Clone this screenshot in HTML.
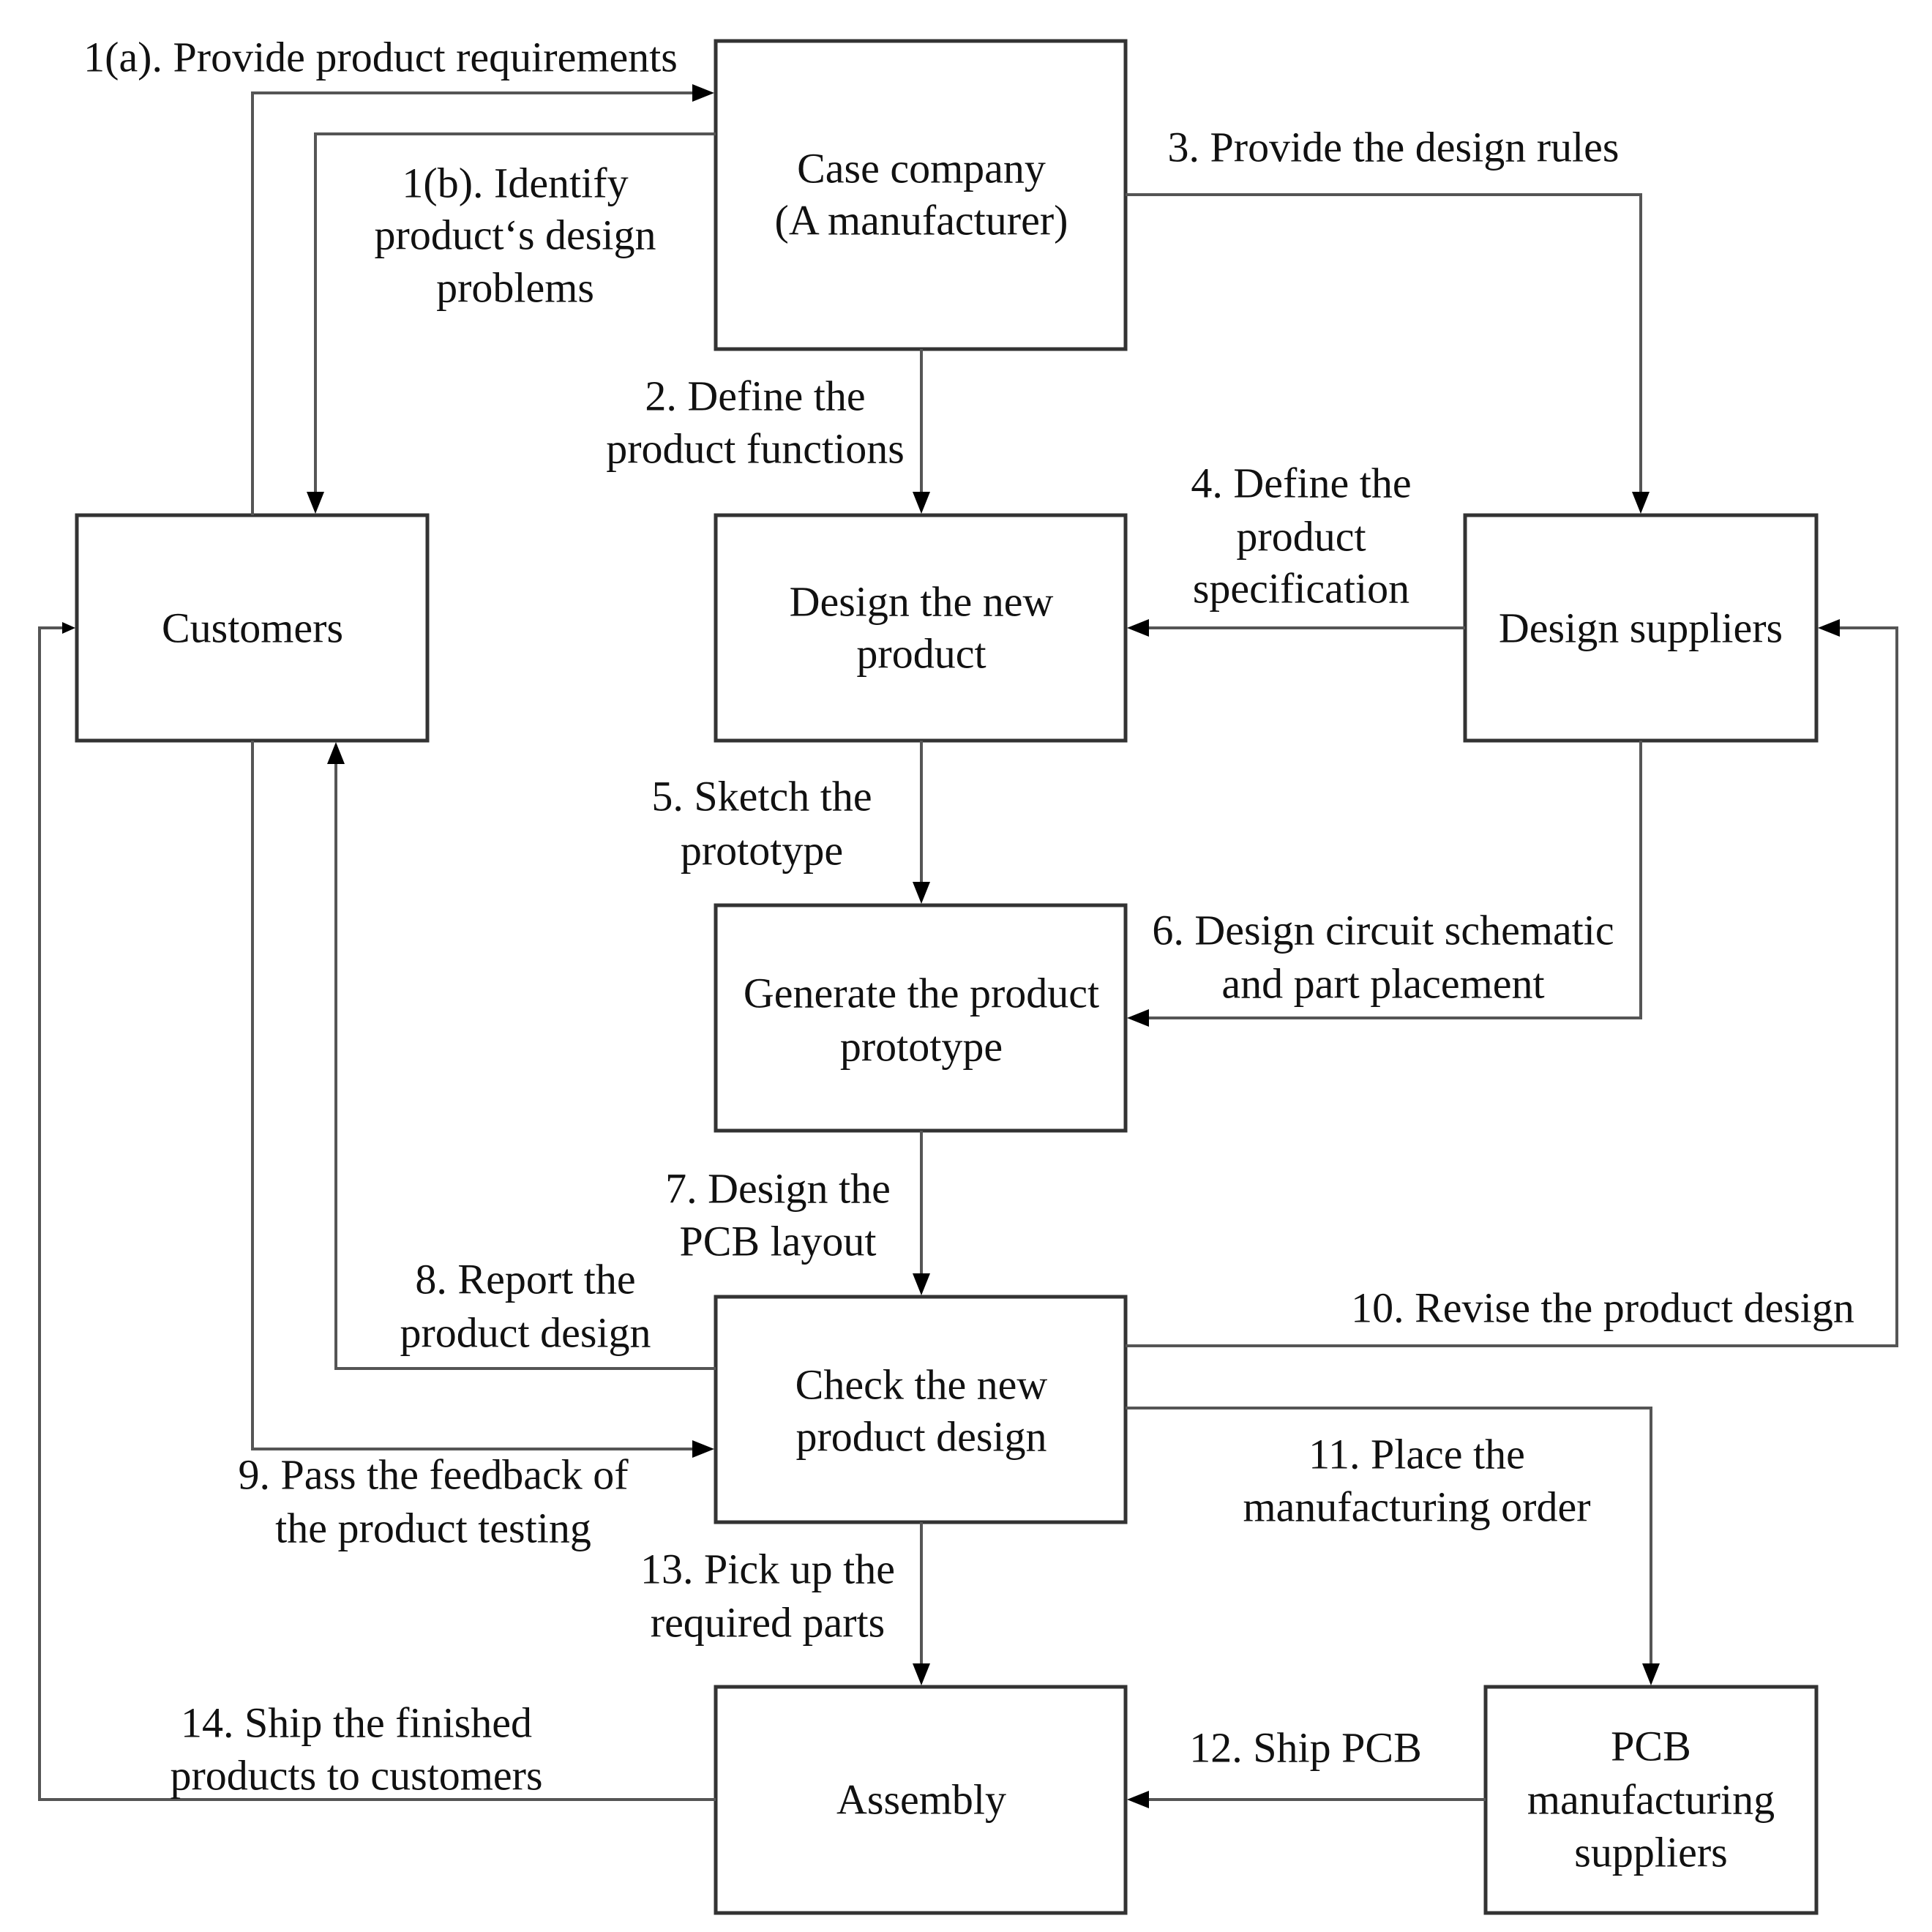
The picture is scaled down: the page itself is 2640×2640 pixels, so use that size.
<!DOCTYPE html>
<html><head><meta charset="utf-8"><style>
html,body{margin:0;padding:0;background:#fff;}
svg{display:block;}
text{font-family:"Liberation Serif",serif;font-size:58px;fill:#111;}
</style></head><body>
<svg width="2640" height="2640" viewBox="0 0 2640 2640" xmlns="http://www.w3.org/2000/svg">
<g fill="none" stroke="#333" stroke-width="5">
<rect x="978" y="56" width="560" height="421"/>
<rect x="105" y="704" width="479" height="308"/>
<rect x="978" y="704" width="560" height="308"/>
<rect x="2002" y="704" width="480" height="308"/>
<rect x="978" y="1237" width="560" height="308"/>
<rect x="978" y="1772" width="560" height="308"/>
<rect x="978" y="2305" width="560" height="309"/>
<rect x="2030" y="2305" width="452" height="309"/>
</g>
<g fill="none" stroke="#555" stroke-width="4">
<polyline points="345,704 345,127 950,127"/>
<polyline points="978,183 431,183 431,676"/>
<line x1="1259" y1="477" x2="1259" y2="676"/>
<polyline points="1538,266 2242,266 2242,676"/>
<line x1="2002" y1="858" x2="1566" y2="858"/>
<line x1="1259" y1="1012" x2="1259" y2="1209"/>
<polyline points="2242,1012 2242,1391 1566,1391"/>
<line x1="1259" y1="1545" x2="1259" y2="1744"/>
<polyline points="978,1870 459,1870 459,1040"/>
<polyline points="345,1012 345,1980 950,1980"/>
<polyline points="1538,1839 2592,1839 2592,858 2510,858"/>
<polyline points="1538,1924 2256,1924 2256,2277"/>
<line x1="2030" y1="2459" x2="1566" y2="2459"/>
<line x1="1259" y1="2080" x2="1259" y2="2277"/>
<polyline points="978,2459 54,2459 54,858 90,858"/>
</g>
<g fill="#000">
<polygon points="976,127 946,115 946,139"/>
<polygon points="431,702 419,672 443,672"/>
<polygon points="1259,702 1247,672 1271,672"/>
<polygon points="2242,702 2230,672 2254,672"/>
<polygon points="1540,858 1570,846 1570,870"/>
<polygon points="1259,1235 1247,1205 1271,1205"/>
<polygon points="1540,1391 1570,1379 1570,1403"/>
<polygon points="1259,1770 1247,1740 1271,1740"/>
<polygon points="459,1014 447,1044 471,1044"/>
<polygon points="976,1980 946,1968 946,1992"/>
<polygon points="2484,858 2514,846 2514,870"/>
<polygon points="2256,2303 2244,2273 2268,2273"/>
<polygon points="1540,2459 1570,2447 1570,2471"/>
<polygon points="1259,2303 1247,2273 1271,2273"/>
<polygon points="103,858 85,850 85,866"/>
</g>
<g text-anchor="middle" dominant-baseline="central">
<text x="520" y="78">1(a). Provide product requirements</text>
<text x="704" y="250">1(b). Identify</text>
<text x="704" y="321">product‘s design</text>
<text x="704" y="393">problems</text>
<text x="1259" y="230">Case company</text>
<text x="1259" y="301">(A manufacturer)</text>
<text x="1904" y="201">3. Provide the design rules</text>
<text x="1032" y="541">2. Define the</text>
<text x="1032" y="613">product functions</text>
<text x="1778" y="660">4. Define the</text>
<text x="1778" y="733">product</text>
<text x="1778" y="804">specification</text>
<text x="1259" y="822">Design the new</text>
<text x="1259" y="893">product</text>
<text x="2242" y="858">Design suppliers</text>
<text x="345" y="858">Customers</text>
<text x="1041" y="1088">5. Sketch the</text>
<text x="1041" y="1162">prototype</text>
<text x="1890" y="1271">6. Design circuit schematic</text>
<text x="1890" y="1344">and part placement</text>
<text x="1259" y="1357">Generate the product</text>
<text x="1259" y="1430">prototype</text>
<text x="1063" y="1624">7. Design the</text>
<text x="1063" y="1696">PCB layout</text>
<text x="718" y="1748">8. Report the</text>
<text x="718" y="1821">product design</text>
<text x="2190" y="1787">10. Revise the product design</text>
<text x="1259" y="1892">Check the new</text>
<text x="1259" y="1963">product design</text>
<text x="1936" y="1987">11. Place the</text>
<text x="1936" y="2059">manufacturing order</text>
<text x="592" y="2015">9. Pass the feedback of</text>
<text x="592" y="2088">the product testing</text>
<text x="1049" y="2144">13. Pick up the</text>
<text x="1049" y="2217">required parts</text>
<text x="487" y="2354">14. Ship the finished</text>
<text x="487" y="2426">products to customers</text>
<text x="1784" y="2388">12. Ship PCB</text>
<text x="1259" y="2459">Assembly</text>
<text x="2256" y="2386">PCB</text>
<text x="2256" y="2459">manufacturing</text>
<text x="2256" y="2531">suppliers</text>
</g>
</svg>
</body></html>
